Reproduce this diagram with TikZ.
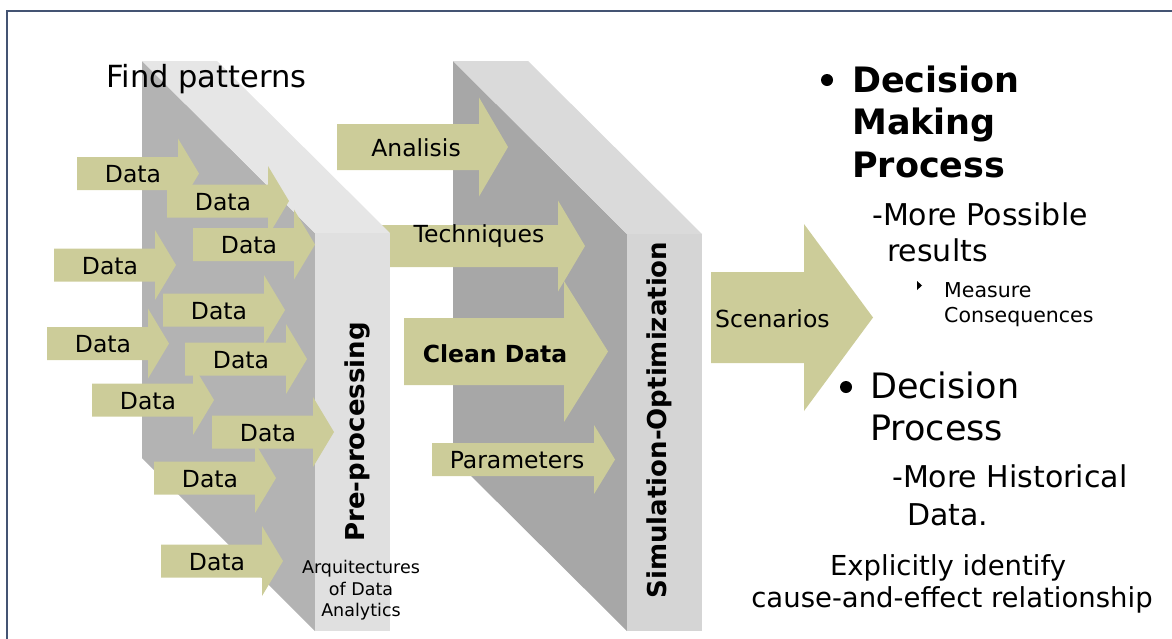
\documentclass[tikz,border=0pt]{standalone}
\usepackage{fontspec}
\setmainfont{DejaVu Sans}
\definecolor{olivebox}{RGB}{204,204,153}
\definecolor{frameblue}{RGB}{68,84,115}
\definecolor{pAdark}{RGB}{179,179,179}
\definecolor{pAtop}{RGB}{230,230,230}
\definecolor{pAfront}{RGB}{224,224,224}
\definecolor{pBdark}{RGB}{167,167,167}
\definecolor{pBtop}{RGB}{218,218,218}
\definecolor{pBfront}{RGB}{213,213,213}
\newcommand\blockarr[7]{% name, left x, centre y, tip x, rect half height, head half height, head length
  \fill[arrowfill] (#2,#3-#5) -- (#4-#7,#3-#5) -- (#4-#7,#3-#6) -- (#4,#3) -- (#4-#7,#3+#6) -- (#4-#7,#3+#5) -- (#2,#3+#5) -- cycle;
  \coordinate (#1) at (#2,#3);}
\newcommand\dataarr[3]{% name, left x, centre y
  \blockarr{#1}{#2}{#3}{#2+122}{16.5}{35}{21}
  \node[lbl] (#1txt) at (#2+56,#3+9) {Data};}
\begin{document}
\begin{tikzpicture}[x=1pt,y=-1pt,
  arrowfill/.style={fill=olivebox},
  lbl/.style={anchor=base, inner sep=0pt, font=\fontsize{23.5}{28}\selectfont},
  rtxt/.style={anchor=base west, inner sep=0pt},
  boldbig/.style={rtxt, font=\bfseries\fontsize{35}{42}\selectfont},
  regbig/.style={rtxt, font=\fontsize{35}{42}\selectfont},
  sub/.style={rtxt, font=\fontsize{30}{36}\selectfont},
  subsub/.style={rtxt, font=\fontsize{20.5}{25}\selectfont},
  note/.style={anchor=base, inner sep=0pt, font=\fontsize{27.5}{33}\selectfont},
  vlabel/.style={rotate=90, inner sep=0pt, font=\bfseries\fontsize{26}{31}\selectfont}]
\useasboundingbox (0,0) rectangle (1172,638);
% frame
\draw[frameblue, line width=2.5pt] (7,640) -- (7,11) -- (1174,11);
% panel 2 (Simulation-Optimization)
\fill[pBdark] (453,61) -- (627,234) -- (627,631) -- (453,458) -- cycle;
\fill[pBtop] (453,61) -- (528,61) -- (702,234) -- (627,234) -- cycle;
\fill[pBfront] (627,234) rectangle (702,631);
% techniques arrow (behind panel 1)
\blockarr{tech}{370}{246}{585}{21}{45.5}{27}
% panel 1 (Pre-processing)
\fill[pAdark] (142,61) -- (315,233) -- (315,631) -- (142,458) -- cycle;
\fill[pAtop] (142,61) -- (217,61) -- (390,233) -- (315,233) -- cycle;
\fill[pAfront] (315,233) rectangle (390,631);
% data arrows
\dataarr{dA}{77}{173.5}
\dataarr{dB}{167}{201}
\dataarr{dC}{193}{244.5}
\dataarr{dD}{54}{265}
\dataarr{dE}{163}{310}
\dataarr{dF}{47}{343.5}
\dataarr{dG}{185}{359}
\dataarr{dH}{92}{400}
\dataarr{dI}{212}{432}
\dataarr{dJ}{154}{478}
\dataarr{dK}{161}{561}
% panel 2 arrows
\blockarr{anal}{337}{147}{508}{23}{49.5}{29}
\blockarr{clean}{404}{351.5}{608}{33.5}{70.5}{44}
\blockarr{param}{432}{459.5}{615}{16.5}{34.5}{21}
\blockarr{scen}{711}{317.5}{873}{45.5}{93.5}{69}
% arrow labels
\node[lbl] (analtxt) at (416,156) {Analisis};
\node[lbl] (techtxt) at (479,242) {Techniques};
\node[lbl, font=\bfseries\fontsize{23.5}{28}\selectfont] (cleantxt) at (495,362) {Clean Data};
\node[lbl] (paramtxt) at (517,468) {Parameters};
\node[lbl, anchor=base west] (scentxt) at (715,327) {Scenarios};
% panel labels
\node[rtxt, font=\fontsize{30.5}{36}\selectfont] (find) at (106,87) {Find patterns};
\node[vlabel] (pre) at (357,432) {Pre-processing};
\node[vlabel] (sim) at (659,420) {Simulation-Optimization};
\node[anchor=base, inner sep=0pt, font=\fontsize{17.5}{21}\selectfont] (arq1) at (361,573) {Arquitectures};
\node[anchor=base, inner sep=0pt, font=\fontsize{17.5}{21}\selectfont] (arq2) at (361,595) {of Data};
\node[anchor=base, inner sep=0pt, font=\fontsize{17.5}{21}\selectfont] (arq3) at (361,616) {Analytics};
% right-hand text
\fill (827,80) circle (6);
\node[boldbig] (dm1) at (852,92) {Decision};
\node[boldbig] (dm2) at (852,134) {Making};
\node[boldbig] (dm3) at (852,177) {Process};
\node[sub] (mp1) at (872,225) {-More Possible};
\node[sub] (mp2) at (887,261) {results};
\fill (917,281) -- (922,285.5) -- (917,290) -- cycle;
\node[subsub] (mc1) at (944,297) {Measure};
\node[subsub] (mc2) at (944,322) {Consequences};
\fill (846,387) circle (6);
\node[regbig] (dp1) at (870,398) {Decision};
\node[regbig] (dp2) at (870,440) {Process};
\node[sub] (mh1) at (892,487) {-More Historical};
\node[sub] (mh2) at (907,525) {Data.};
\node[note] (ex1) at (948,575) {Explicitly identify};
\node[note] (ex2) at (952,607) {cause-and-effect relationship};
\end{tikzpicture}
\end{document}
